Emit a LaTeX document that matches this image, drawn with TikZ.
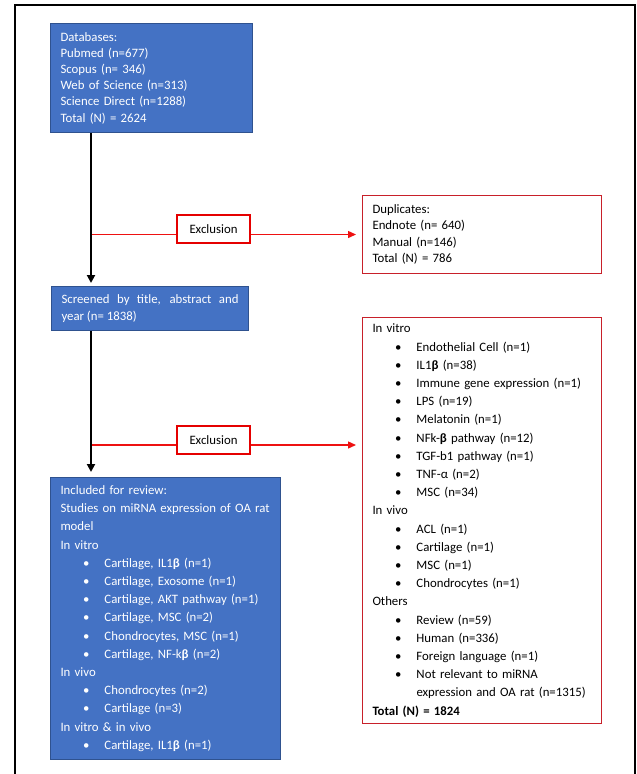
\documentclass[tikz,border=0pt]{standalone}
\usepackage{fontspec}
\setmainfont{Carlito}
\usetikzlibrary{arrows.meta,calc}
\definecolor{boxc}{HTML}{4472C4}
\definecolor{edgec}{HTML}{2F528F}
\definecolor{redc}{HTML}{C8202A}
\definecolor{linec}{HTML}{EE1111}
\newcommand{\fsz}[1]{\fontsize{12.8}{#1}\selectfont}
\newcommand{\bul}[1]{\hspace*{22.5pt}\makebox[21.5pt][l]{\textbullet}\mbox{#1}}
\tikzset{
  bluebox/.style={draw=edgec,line width=1pt,fill=boxc,text=white,anchor=north west,inner xsep=10pt,inner ysep=0pt,align=left},
  redbox/.style={draw=redc,line width=1pt,fill=white,text=black,anchor=north west,inner xsep=10pt,inner ysep=0pt,align=left},
  exbox/.style={draw=red!90!black,line width=1.6pt,fill=white,minimum width=73pt,minimum height=28pt,inner sep=0pt,font=\fsz{16}},
  flow/.style={-{Triangle[length=8pt,width=8pt]},line width=2.6pt,black,shorten >=3pt},
  exl/.style={linec,line width=1.4pt},
  exa/.style={exl,-{Triangle[length=8pt,width=7pt]},shorten >=6pt}
}
\begin{document}
\begin{tikzpicture}[x=1pt,y=-1pt]
\useasboundingbox (0,0) rectangle (637,774);
% outer frame
\draw[line width=2pt] (15,774) -- (15,5) -- (635,5) -- (635,774);

% main column
\node[bluebox,text width=182pt,minimum height=109pt,font=\fsz{16.2}] (db) at (50,23)
  {Databases:\\ Pubmed (n=677)\\ Scopus (n= 346)\\ Web of Science (n=313)\\ Science Direct (n=1288)\\ Total (N) = 2624};
\node[bluebox,text width=177pt,minimum height=44pt,font=\fsz{17},align=justify] (scr) at (51,286)
  {Screened by title, abstract and year (n= 1838)};
\node[bluebox,text width=210pt,minimum height=282pt,font=\fsz{18.2}] (inc) at (50,477)
  {Included for review:\\ \mbox{Studies on miRNA expression of OA rat}\\ model\\ In vitro\\
   \bul{Cartilage, IL1\textbf{β} (n=1)}\\ \bul{Cartilage, Exosome (n=1)}\\ \bul{Cartilage, AKT pathway (n=1)}\\
   \bul{Cartilage, MSC (n=2)}\\ \bul{Chondrocytes, MSC (n=1)}\\ \bul{Cartilage, NF-k\textbf{β} (n=2)}\\
   In vivo\\ \bul{Chondrocytes (n=2)}\\ \bul{Cartilage (n=3)}\\
   In vitro \& in vivo\\ \bul{Cartilage, IL1\textbf{β} (n=1)}};

% excluded records
\node[redbox,text width=219pt,minimum height=78pt,font=\fsz{16.2}] (dup) at (362,195)
  {Duplicates:\\ Endnote (n= 640)\\ Manual (n=146)\\ Total (N) = 786};
\node[redbox,text width=219pt,minimum height=406pt,font=\fsz{18.2}] (exc) at (362,317)
  {In vitro\\ \bul{Endothelial Cell (n=1)}\\ \bul{IL1\textbf{β} (n=38)}\\ \bul{Immune gene expression (n=1)}\\
   \bul{LPS (n=19)}\\ \bul{Melatonin (n=1)}\\ \bul{NFk-\textbf{β} pathway (n=12)}\\ \bul{TGF-b1 pathway (n=1)}\\
   \bul{TNF-α (n=2)}\\ \bul{MSC (n=34)}\\
   In vivo\\ \bul{ACL (n=1)}\\ \bul{Cartilage (n=1)}\\ \bul{MSC (n=1)}\\ \bul{Chondrocytes (n=1)}\\
   Others\\ \bul{Review (n=59)}\\ \bul{Human (n=336)}\\ \bul{Foreign language (n=1)}\\
   \bul{Not relevant to miRNA}\\ \hspace*{44pt}\mbox{expression and OA rat (n=1315)}\\
   \textbf{Total (N) = 1824}};

\node[exbox] (ex1) at (213.5,229) {Exclusion};
\node[exbox] (ex2) at (213.5,440) {Exclusion};

% exclusion connectors
\coordinate (a1) at ($(db.south west)+(41,0)$);
\coordinate (b1) at (a1 |- dup.west);
\coordinate (b2) at ($(a1 |- ex2)+(0,5)$);
\draw[exl] (b1) -- (b1 -| ex1.west);
\draw[exa] (b1 -| ex1.east) -- (dup.west);
\draw[exl] (b2) -- (b2 -| ex2.west);
\draw[exa] (b2 -| ex2.east) -- (b2 -| exc.west);

% flow arrows
\coordinate (a2) at (a1 |- scr.south);
\draw[flow] (a1) -- (a1 |- scr.north);
\draw[flow,shorten >=5pt] (a2) -- (a2 |- inc.north);
\end{tikzpicture}
\end{document}
